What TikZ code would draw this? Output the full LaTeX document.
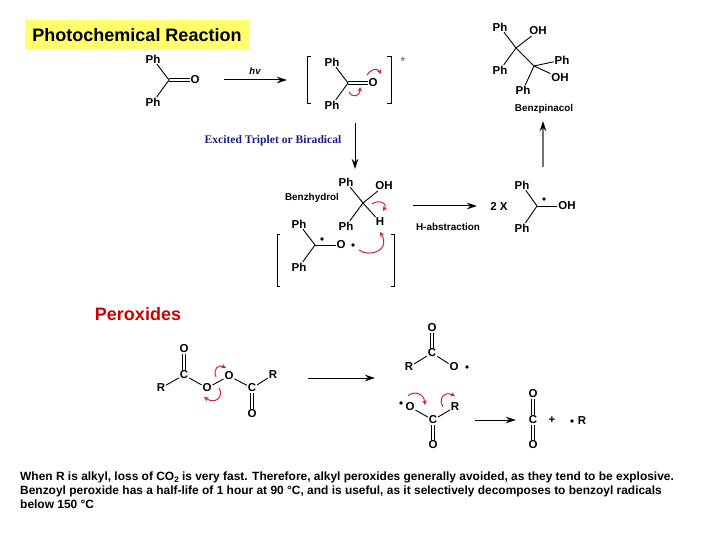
\documentclass[tikz,border=0pt]{standalone}
\usepackage{fontspec}
\setmainfont{Liberation Sans}
\usepackage{tikz}
\usetikzlibrary{arrows.meta}
\definecolor{banner}{RGB}{255,255,110}
\definecolor{labelblue}{RGB}{30,30,130}
\definecolor{curlred}{RGB}{200,40,50}
\newfontfamily\serifbold{Liberation Serif}[BoldFont={Liberation Serif Bold}]
\tikzset{
  atom/.style={inner sep=0.8pt,font=\fontsize{11.5}{12}\selectfont\bfseries},
  tag/.style={inner sep=0pt,font=\fontsize{9.9}{11}\selectfont\bfseries},
  bond/.style={line width=0.9pt},
  rxn/.style={line width=1pt,-{Stealth[length=10pt,width=6.5pt]}},
  curl/.style={curlred,line width=1pt,-{Stealth[length=4.5pt,width=4.5pt]}},
  brak/.style={line width=1pt},
  rad/.style={circle,fill=black,inner sep=0pt,minimum size=3.6pt}
}
% double bonds: upright and level
\newcommand{\upbond}[2]{\foreach \s in {-1.3,1.3} \draw[bond,transform canvas={xshift=\s pt}] (#1) -- (#2);}
\newcommand{\flatbond}[2]{\foreach \s in {-1.3,1.3} \draw[bond,transform canvas={yshift=\s pt}] (#1) -- (#2);}
\begin{document}
\begin{tikzpicture}[x=1pt,y=-1pt]
  \useasboundingbox (0,0) rectangle (720,540);
  % title and headings
  \node[fill=banner,minimum width=224pt,minimum height=30pt,inner sep=0pt,font=\fontsize{18}{20}\selectfont\bfseries] (title) at (137,35) {Photochemical Reaction};
  \node[inner sep=0pt,text=red!80!black,font=\fontsize{18}{20}\selectfont\bfseries] (peroxides) at (138,314) {Peroxides};
  % benzophenone
  \coordinate (cA) at (169,80);
  \node[atom] (phA) at (153,59) {Ph};
  \node[atom] (phB) at (153,102) {Ph};
  \node[atom] (oA) at (195,80) {O};
  \draw[bond] (phA) -- (cA);
  \draw[bond] (phB) -- (cA);
  \flatbond{cA}{oA}
  \coordinate (hvL) at (224,80);
  \coordinate (hvR) at (287,80);
  \draw[rxn] (hvL) -- (hvR);
  \node[tag,font=\fontsize{9.5}{10}\selectfont\bfseries\itshape] (hv) at (255,71) {hv};
  % excited state
  \coordinate (cB) at (348,83);
  \node[atom] (phC) at (332,62) {Ph};
  \node[atom] (phD) at (332,105) {Ph};
  \node[atom] (oB) at (373,83) {O};
  \draw[bond] (phC) -- (cB);
  \draw[bond] (phD) -- (cB);
  \flatbond{cB}{oB}
  \draw[brak] (311,57) -- (307,57) -- (307,104) -- (311,104);
  \draw[brak] (387,57) -- (391,57) -- (391,104) -- (387,104);
  \node[inner sep=0pt,text=black!65,font=\fontsize{12}{12}\selectfont] (star) at (403,61) {*};
  \draw[curl] (367,75) .. controls (370,69) and (378,68) .. (381,74);
  \draw[curl] (349,92) .. controls (352,98) and (360,97) .. (360,87);
  \node[inner sep=0pt,text=labelblue,font=\fontsize{11.6}{13}\serifbold\bfseries] (excited) at (273,141) {Excited Triplet or Biradical};
  \coordinate (downT) at (355,123);
  \coordinate (downB) at (355,169);
  \draw[rxn] (downT) -- (downB);
  % benzhydrol
  \coordinate (cC) at (363,203);
  \node[atom] (phE) at (346,182) {Ph};
  \node[atom] (phF) at (346,226) {Ph};
  \node[atom] (ohA) at (384,186) {OH};
  \node[atom] (hA) at (380,222) {H};
  \draw[bond] (phE) -- (cC);
  \draw[bond] (phF) -- (cC);
  \draw[bond] (ohA) -- (cC);
  \draw[bond] (hA) -- (cC);
  \node[tag] (benzhydrol) at (312,198) {Benzhydrol};
  \draw[curl] (372,204) .. controls (378,199) and (388,203) .. (383,211);
  \draw[curl] (359,250) .. controls (370,258) and (391,250) .. (380,232);
  % biradical
  \coordinate (cD) at (315,245);
  \node[atom] (phG) at (299,224) {Ph};
  \node[atom] (phH) at (299,267) {Ph};
  \node[atom] (oC) at (341,245) {O};
  \draw[bond] (phG) -- (cD);
  \draw[bond] (phH) -- (cD);
  \draw[bond] (cD) -- (oC);
  \node[rad] (radA) at (322,239) {};
  \node[rad] (radB) at (353,245) {};
  \draw[brak] (280,234) -- (277,234) -- (277,286) -- (280,286);
  \draw[brak] (391,234) -- (394,234) -- (394,286) -- (391,286);
  % abstraction
  \coordinate (absL) at (413,206);
  \coordinate (absR) at (477,206);
  \draw[rxn] (absL) -- (absR);
  \node[tag] (habs) at (448,227) {H-abstraction};
  \node[atom] (twoX) at (499,206) {2 X};
  \coordinate (cE) at (537,206);
  \node[atom] (phI) at (522,185) {Ph};
  \node[atom] (phJ) at (522,228) {Ph};
  \node[atom] (ohB) at (567,206) {OH};
  \draw[bond] (phI) -- (cE);
  \draw[bond] (phJ) -- (cE);
  \draw[bond] (cE) -- (ohB);
  \node[rad] (radC) at (544,199) {};
  \coordinate (upB) at (543,167);
  \coordinate (upT) at (543,121);
  \draw[draw=black!55,-{Stealth[length=10pt,width=6.5pt,color=black]},line width=1.3pt] (upB) -- (upT);
  % benzpinacol
  \coordinate (cF) at (516,48);
  \coordinate (cG) at (534,66);
  \node[atom] (phK) at (500,27) {Ph};
  \node[atom] (ohC) at (538,31) {OH};
  \node[atom] (phL) at (500,70) {Ph};
  \node[atom] (phM) at (562,60) {Ph};
  \node[atom] (ohD) at (560,78) {OH};
  \node[atom] (phN) at (523,90) {Ph};
  \draw[bond] (phK) -- (cF);
  \draw[bond] (ohC) -- (cF);
  \draw[bond] (phL) -- (cF);
  \draw[bond] (cF) -- (cG);
  \draw[bond] (phM) -- (cG);
  \draw[bond] (ohD) -- (cG);
  \draw[bond] (phN) -- (cG);
  \node[tag] (pinacol) at (544,109) {Benzpinacol};
  % peroxide
  \node[atom] (oD) at (184,349) {O};
  \node[atom] (cH) at (184,375) {C};
  \node[atom] (rA) at (161,388) {R};
  \node[atom] (oE) at (207,388) {O};
  \node[atom] (oF) at (229,376) {O};
  \node[atom] (cI) at (252,388) {C};
  \node[atom] (rB) at (273,375) {R};
  \node[atom] (oG) at (252,414) {O};
  \upbond{oD}{cH}
  \draw[bond] (rA) -- (cH);
  \draw[bond] (cH) -- (oE);
  \draw[bond] (oE) -- (oF);
  \draw[bond] (oF) -- (cI);
  \draw[bond] (cI) -- (rB);
  \upbond{cI}{oG}
  \draw[curl] (216,377) .. controls (213,369) and (218,364) .. (226,368);
  \draw[curl] (219,388) .. controls (224,396) and (216,405) .. (204,397);
  \coordinate (perL) at (308,378);
  \coordinate (perR) at (375,378);
  \draw[rxn] (perL) -- (perR);
  % benzoyl radical
  \node[atom] (oH) at (432,328) {O};
  \node[atom] (cJ) at (432,353) {C};
  \node[atom] (rC) at (409,367) {R};
  \node[atom] (oI) at (454,367) {O};
  \node[rad] (radD) at (467,367) {};
  \upbond{oH}{cJ}
  \draw[bond] (rC) -- (cJ);
  \draw[bond] (cJ) -- (oI);
  % decarboxylation
  \node[rad] (radE) at (401,403) {};
  \node[atom] (oJ) at (410,407) {O};
  \node[atom] (cK) at (433,420) {C};
  \node[atom] (rD) at (455,407) {R};
  \node[atom] (oK) at (433,445) {O};
  \draw[bond] (oJ) -- (cK);
  \draw[bond] (cK) -- (rD);
  \upbond{cK}{oK}
  \draw[curl] (408,396) .. controls (412,391) and (424,392) .. (425,405);
  \draw[curl] (443,407) .. controls (438,399) and (444,391) .. (455,396);
  \coordinate (decL) at (475,420);
  \coordinate (decR) at (516,420);
  \draw[rxn] (decL) -- (decR);
  \node[atom] (oL) at (533,394) {O};
  \node[atom] (cL) at (533,420) {C};
  \node[atom] (oM) at (533,445) {O};
  \upbond{oL}{cL}
  \upbond{cL}{oM}
  \node[atom] (plus) at (552,420) {+};
  \node[rad] (radF) at (572,421) {};
  \node[atom] (rE) at (582,421) {R};
  % caption
  \node[anchor=north west,align=left,inner sep=0pt,font=\fontsize{11.95}{14}\selectfont\bfseries] (caption) at (20,471.5) {When R is alkyl, loss of CO\raisebox{-2.5pt}{\fontsize{8}{8}\selectfont 2} is very fast. Therefore, alkyl peroxides generally avoided, as they tend to be explosive.\\Benzoyl peroxide has a half-life of 1 hour at 90 °C, and is useful, as it selectively decomposes to benzoyl radicals\\below 150 °C};
\end{tikzpicture}
\end{document}
